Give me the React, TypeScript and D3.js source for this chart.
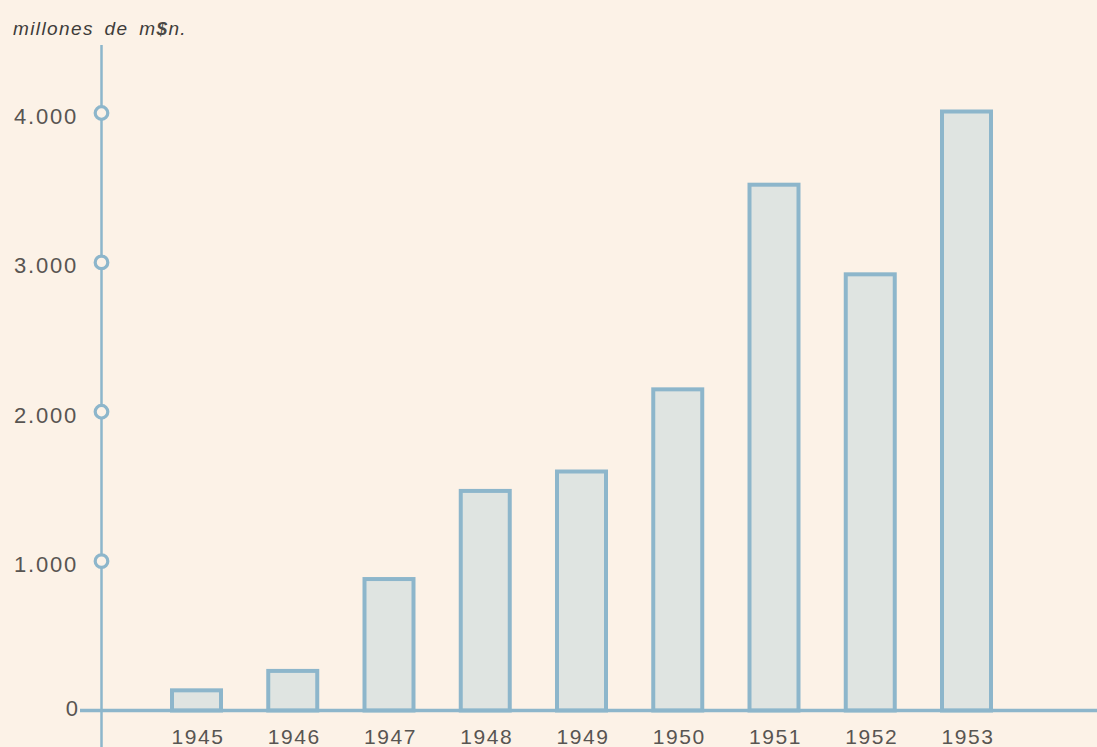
import React from "react";
import * as d3 from "d3";

const years = ["1945", "1946", "1947", "1948", "1949", "1950", "1951", "1952", "1953"];
const values = [135, 265, 880, 1470, 1600, 2150, 3520, 2920, 4010];
const yTicks = [1000, 2000, 3000, 4000];
const yTickLabels = ["1.000", "2.000", "3.000", "4.000"];

export default function App() {
  const W = 1097, H = 747;
  const axisX = 101.5;
  const y = d3.scaleLinear().domain([0, 4000]).range([710.5, 113]);
  const x = d3.scalePoint<string>().domain(years).range([196.5, 966.5]);
  const barW = 49;
  const blue = "#8db6cb";
  const textCol = "#585552";
  const bg = "#fcf2e7";
  const font = "'Liberation Sans', Arial, sans-serif";

  return (
    <svg width={W} height={H} style={{ position: "absolute", left: 0, top: 0, background: bg }}>
      <rect x={0} y={0} width={W} height={H} fill={bg} />
      <text x={13} y={35} fontFamily={font} fontStyle="italic" fontSize={19} fill="#3e3c3a" wordSpacing={4} letterSpacing={1.4}>
        millones de m
        <tspan fontWeight="bold" fill="#4a4845">$</tspan>
        <tspan>n.</tspan>
      </text>
      {/* bars */}
      {years.map((yr, i) => (
        <rect
          key={yr}
          x={(x(yr) as number) - barW / 2}
          y={y(values[i])}
          width={barW}
          height={y(0) - y(values[i])}
          fill="#dfe4e1"
          stroke={blue}
          strokeWidth={4}
        />
      ))}
      {/* baseline */}
      <line x1={80} x2={W} y1={y(0)} y2={y(0)} stroke={blue} strokeWidth={3.5} />
      {/* vertical axis */}
      <line x1={axisX} x2={axisX} y1={45} y2={H} stroke={blue} strokeWidth={2.5} />
      {yTicks.map((t, i) => (
        <g key={t}>
          <circle cx={axisX} cy={y(t)} r={6.3} fill={bg} stroke={blue} strokeWidth={3.2} />
          <text x={78} y={y(t) + 11} textAnchor="end" fontFamily={font} fontSize={22} fill={textCol} letterSpacing={1.8}>
            {yTickLabels[i]}
          </text>
        </g>
      ))}
      <text x={78} y={y(0) + 5} textAnchor="end" fontFamily={font} fontSize={22} fill={textCol}>0</text>
      {years.map((yr) => (
        <text key={yr} x={(x(yr) as number) + 1.5} y={744} textAnchor="middle" fontFamily={font} fontSize={21} fill={textCol} letterSpacing={1.6}>
          {yr}
        </text>
      ))}
    </svg>
  );
}
